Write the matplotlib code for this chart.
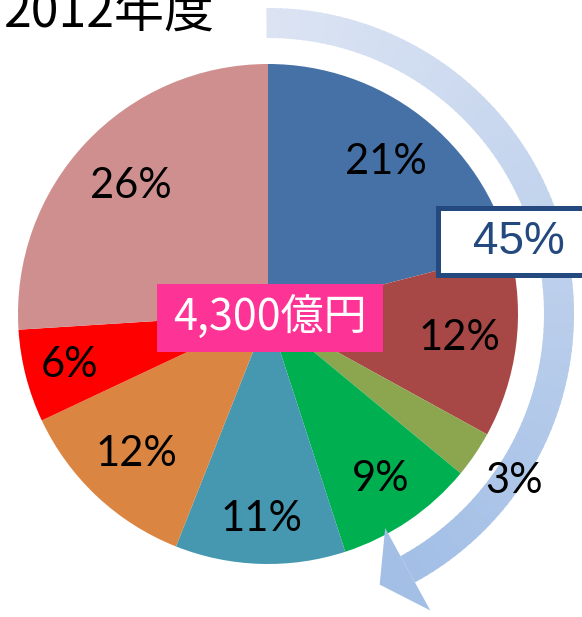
import numpy as np
import matplotlib
matplotlib.use("Agg")
import matplotlib.pyplot as plt
import matplotlib.patches as patches
from matplotlib.colors import to_rgb

# data
shares = [21, 12, 3, 9, 11, 12, 6, 26]
share_labels = ["21%", "12%", "3%", "9%", "11%", "12%", "6%", "26%"]
slice_colors = ["#4571a6", "#a84846", "#8ba64e", "#00b050",
                "#4598b0", "#db8542", "#ff0000", "#d08f8f"]
title_text = "2012年度"
total_text = "4,300億円"
group_text = "45%"

# layout (pixels, y measured from the top of the image)
W, H = 582, 617
cx, cy, R = 268, 314, 250
label_dist = [0.77, 0.77, 1.19, 0.80, 0.82, 0.77, 0.82, 0.75]


def py(y):
    # convert top-based pixel y to data y
    return H - y


fig = plt.figure(figsize=(W / 100, H / 100), dpi=100)
ax = fig.add_axes([0, 0, 1, 1])

# pie, clockwise from 12 o'clock
wedges, _ = ax.pie(shares, colors=slice_colors, startangle=90, counterclock=False,
                   center=(cx, py(cy)), radius=R, frame=True,
                   wedgeprops=dict(linewidth=0))

total = sum(shares)
cum = 0
for val, lab, d in zip(shares, share_labels, label_dist):
    mid = np.deg2rad(90 - (cum + val / 2) / total * 360)
    cum += val
    ax.text(cx + d * R * np.cos(mid), py(cy) + d * R * np.sin(mid), lab,
            ha="center", va="center", fontsize=30, color="black",
            family=["Lato", "DejaVu Sans"], zorder=6)

# curved gradient arrow round the right side
r_mid, r_w = 291, 30
a_start, a_end = 90.0, -61.3
c0, c1 = np.array(to_rgb("#dce4f3")), np.array(to_rgb("#a3bfe6"))
n = 120
angs = np.linspace(a_start, a_end, n + 1)
for i in range(n):
    col = c0 + (c1 - c0) * i / (n - 1)
    ax.add_patch(patches.Wedge((cx, py(cy)), r_mid + r_w / 2, angs[i + 1], angs[i] + 0.3,
                               width=r_w, facecolor=col, edgecolor="none", zorder=2))
tb = np.deg2rad(a_end)
half = 47
base_in = (cx + (r_mid - half) * np.cos(tb), py(cy) + (r_mid - half) * np.sin(tb))
base_out = (cx + (r_mid + half) * np.cos(tb), py(cy) + (r_mid + half) * np.sin(tb))
mid_pt = np.array([cx + r_mid * np.cos(tb), py(cy) + r_mid * np.sin(tb)])
tip = mid_pt + 32 * np.array([np.sin(tb), -np.cos(tb)])
ax.add_patch(patches.Polygon([base_in, tuple(tip), base_out], closed=True,
                             facecolor=c1, edgecolor="none", zorder=2))

# 45% box
ax.add_patch(patches.Rectangle((437.5, py(274.5)), 200, 67, facecolor="white",
                               edgecolor="#24497e", linewidth=3.6, zorder=7))
ax.text(519, py(242), group_text, ha="center", va="center", fontsize=33,
        color="#24497e", family=["Liberation Sans", "DejaVu Sans"], zorder=8)

# total label
ax.add_patch(patches.Rectangle((157, py(352)), 226, 68, facecolor="#fe3396",
                               edgecolor="none", zorder=7))
ax.text(270, py(318), total_text, ha="center", va="center", fontsize=31,
        color="white", family=["Noto Sans CJK JP", "DejaVu Sans"], zorder=8)

# title, cut at the top edge as in the source image
ax.text(4, py(27), title_text, ha="left", va="baseline", fontsize=36,
        color="black", family=["Noto Sans CJK JP", "DejaVu Sans"], zorder=8)

ax.set_xlim(0, W)
ax.set_ylim(0, H)
ax.set_aspect("equal")
ax.axis("off")

fig.savefig("out.png", dpi=100, facecolor="white")
